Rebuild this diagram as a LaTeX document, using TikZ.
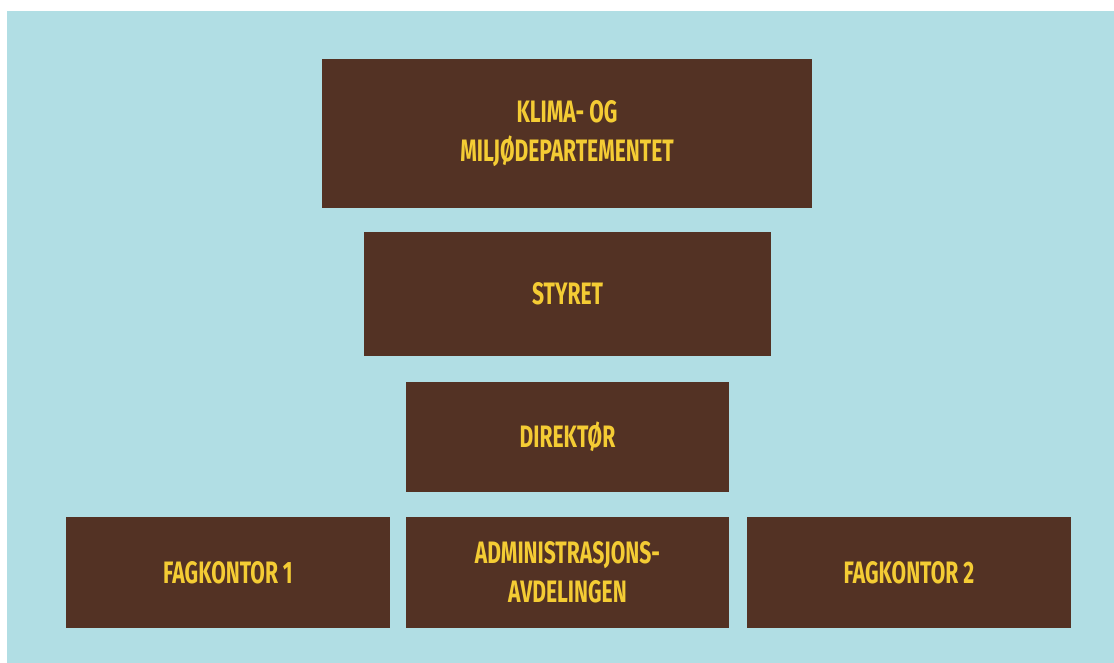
\documentclass[tikz,border=0pt]{standalone}
\usepackage{fontspec}
\newfontfamily\boxfont{Fira Sans}[FakeStretch=0.68]
\definecolor{bgblue}{RGB}{177,222,228}
\definecolor{boxbrown}{RGB}{83,50,36}
\definecolor{boxyellow}{RGB}{244,204,52}

\begin{document}
\begin{tikzpicture}
  [x=1pt,y=-1pt,every node/.style={rectangle,fill=boxbrown,text=boxyellow,
   inner sep=0pt,align=center,font=\boxfont\bfseries\fontsize{31}{39}\selectfont}]
  \useasboundingbox (0,0) rectangle (1114,663);
  \fill[white] (0,0) rectangle (1114,663);
  \fill[bgblue] (7,11) rectangle (1114,663);

  \node[minimum width=490pt,minimum height=149pt] (kld) at (567,133.5) {KLIMA- OG\\MILJØDEPARTEMENTET};
  \node[minimum width=407pt,minimum height=124pt] (sty) at (567.5,294) {STYRET};
  \node[minimum width=323pt,minimum height=110pt] (dir) at (567.5,437) {DIREKTØR};
  \node[minimum width=324pt,minimum height=111pt] (fk1) at (228,572.5) {FAGKONTOR 1};
  \node[minimum width=323pt,minimum height=111pt] (adm) at (567.5,572.5) {ADMINISTRASJONS-\\AVDELINGEN};
  \node[minimum width=324pt,minimum height=111pt] (fk2) at (909,572.5) {FAGKONTOR 2};

\end{tikzpicture}
\end{document}
